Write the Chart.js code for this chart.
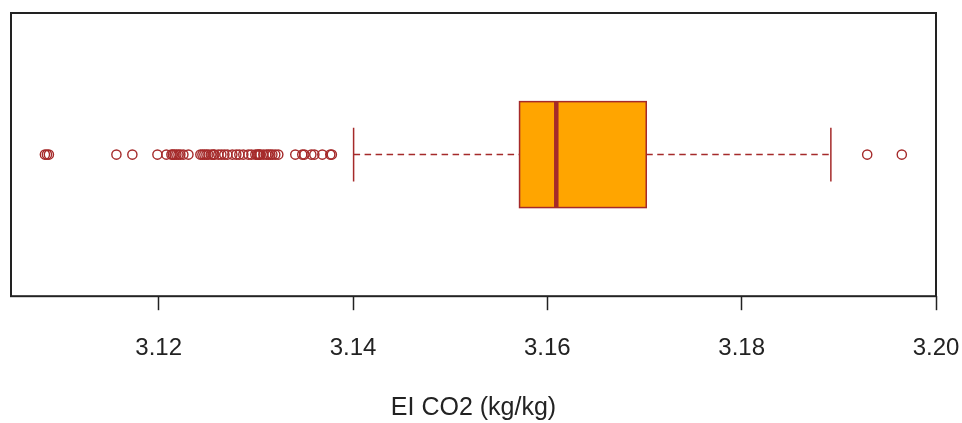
<!DOCTYPE html>
<html>
<head>
<meta charset="utf-8">
<title>EI CO2</title>
<script src="https://cdn.jsdelivr.net/npm/chart.js@4.4.1/dist/chart.umd.min.js"></script>
<style>
  html, body { margin: 0; padding: 0; background: #fff; }
  #wrap { width: 962px; height: 423px; position: relative; }
</style>
</head>
<body>
<div id="wrap"><canvas id="c"></canvas></div>
<script>
// Tick values along the EI CO2 axis
const xTicks = [3.12, 3.14, 3.16, 3.18, 3.20];

// Five-number summary: lower whisker, Q1, median, Q3, upper whisker
const boxStats = [3.14006, 3.15714, 3.16092, 3.17018, 3.18918];

// Points beyond the whiskers
const outliers = [
  3.10829, 3.10850, 3.10870,
  3.11565, 3.11729,
  3.11987, 3.12079, 3.12131, 3.12146, 3.12162, 3.12182, 3.12203, 3.12223, 3.12254, 3.12306,
  3.12429, 3.12450, 3.12470, 3.12491, 3.12511, 3.12542, 3.12563, 3.12573, 3.12614, 3.12645,
  3.12676, 3.12707, 3.12758, 3.12799, 3.12830, 3.12871, 3.12923, 3.12954, 3.12995, 3.13015,
  3.13026, 3.13036, 3.13046, 3.13077, 3.13108, 3.13128, 3.13149, 3.13170, 3.13200, 3.13231,
  3.13406, 3.13478, 3.13499, 3.13571, 3.13602, 3.13684, 3.13766, 3.13782,
  3.19292, 3.19648
];

const BROWN = '#A52A2A';
const ORANGE = '#FFA500';
const BOX_HALF = 0.187;   // half box height, in y-scale units
const CAP_HALF = 0.095;   // half whisker-cap height

// Draws the box, median and whiskers from boxStats via the chart scales
const boxPlugin = {
  id: 'boxDraw',
  beforeDatasetsDraw(chart) {
    const { ctx, scales: { x, y } } = chart;
    const [lo, q1, med, q3, hi] = boxStats;
    const yc = y.getPixelForValue(1);
    const yTop = y.getPixelForValue(1 + BOX_HALF);
    const yBot = y.getPixelForValue(1 - BOX_HALF);
    const cTop = y.getPixelForValue(1 + CAP_HALF);
    const cBot = y.getPixelForValue(1 - CAP_HALF);
    const px = v => x.getPixelForValue(v);
    ctx.save();
    ctx.strokeStyle = BROWN;
    // dashed whiskers
    ctx.lineWidth = 1.5;
    ctx.setLineDash([6.5, 4.5]);
    ctx.beginPath();
    ctx.moveTo(px(lo), yc); ctx.lineTo(px(q1), yc);
    ctx.moveTo(px(q3), yc); ctx.lineTo(px(hi), yc);
    ctx.stroke();
    ctx.setLineDash([]);
    // whisker caps
    ctx.beginPath();
    ctx.moveTo(px(lo), cTop); ctx.lineTo(px(lo), cBot);
    ctx.moveTo(px(hi), cTop); ctx.lineTo(px(hi), cBot);
    ctx.stroke();
    // box
    ctx.fillStyle = ORANGE;
    ctx.fillRect(px(q1), yTop, px(q3) - px(q1), yBot - yTop);
    ctx.lineWidth = 1.5;
    ctx.strokeRect(px(q1), yTop, px(q3) - px(q1), yBot - yTop);
    // median
    ctx.lineWidth = 4.5;
    ctx.beginPath();
    ctx.moveTo(px(med), yTop); ctx.lineTo(px(med), yBot);
    ctx.stroke();
    ctx.restore();
  },
  afterDraw(chart) {
    const { ctx, chartArea: a } = chart;
    ctx.save();
    ctx.strokeStyle = '#222';
    ctx.lineWidth = 2;
    ctx.strokeRect(a.left, a.top, a.right - a.left, a.bottom - a.top);
    ctx.restore();
  }
};

new Chart(document.getElementById('c'), {
  type: 'scatter',
  data: {
    datasets: [{
      data: outliers.map(v => ({ x: v, y: 1 })),
      pointStyle: 'circle',
      pointRadius: 4.6,
      pointBorderWidth: 1.4,
      pointBorderColor: BROWN,
      pointBackgroundColor: 'rgba(0,0,0,0)'
    }]
  },
  options: {
    responsive: true,
    maintainAspectRatio: false,
    animation: false,
    events: [],
    layout: { padding: { left: 11, right: 26, top: 13, bottom: 0 } },
    plugins: { legend: { display: false }, tooltip: { enabled: false } },
    scales: {
      x: {
        type: 'linear',
        min: 3.1048,
        max: 3.20,
        afterBuildTicks: axis => { axis.ticks = xTicks.map(v => ({ value: v })); },
        // the outer margins already leave room for the end labels
        afterFit: axis => { axis.paddingLeft = 0; axis.paddingRight = 0; },
        ticks: {
          callback: v => v.toFixed(2),
          color: '#222',
          padding: 24,
          maxRotation: 0,
          font: { family: 'Liberation Sans, Arial, sans-serif', size: 24 }
        },
        grid: {
          display: true,
          drawOnChartArea: false,
          drawTicks: true,
          tickLength: 14,
          tickWidth: 1.5,
          tickColor: '#222'
        },
        border: { display: false },
        title: {
          display: true,
          text: 'EI CO2 (kg/kg)',
          color: '#222',
          padding: { top: 6, bottom: 0 },
          font: { family: 'Liberation Sans, Arial, sans-serif', size: 25 }
        }
      },
      y: { type: 'linear', display: false, min: 0.5, max: 1.5 }
    }
  },
  plugins: [boxPlugin]
});
</script>
</body>
</html>
